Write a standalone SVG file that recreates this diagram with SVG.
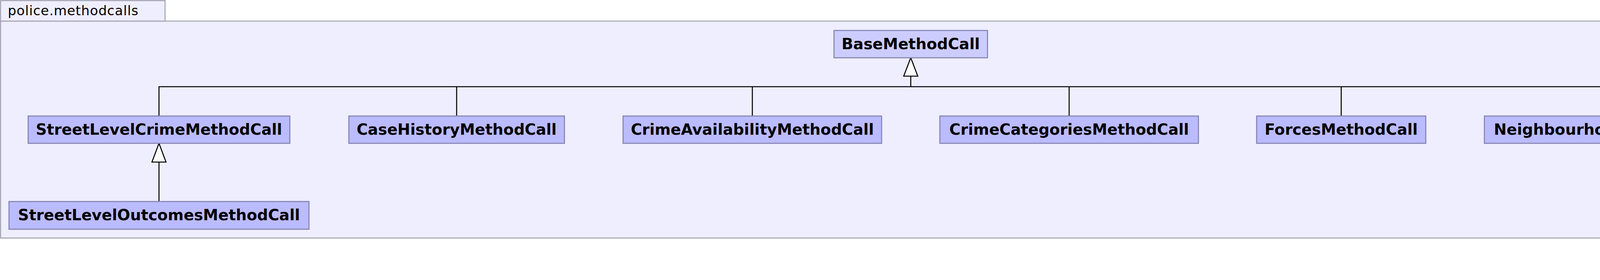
<svg xmlns="http://www.w3.org/2000/svg" width="4485" height="717" viewBox="0 0 4485 717">
<defs>
<style>
.pkg{fill:#EEEEFF;stroke:#A8A8B8;stroke-width:2.8}
.node rect{fill:#BBBBFF;stroke:#8080B0;stroke-width:2.6}
.node.base rect{fill:#CCCCFF}
.node text{font-family:"DejaVu Sans","Liberation Sans",sans-serif;font-weight:bold;font-size:39px;fill:#000;text-anchor:middle}
.pkgtitle{font-family:"DejaVu Sans","Liberation Sans",sans-serif;font-size:34px;fill:#000}
.edge{stroke:#000;stroke-width:2.6;fill:none}
.head{fill:#FFFFFF;stroke:#000;stroke-width:2.6;stroke-linejoin:miter}
</style>
</defs>
<rect width="4485" height="717" fill="#FFFFFF"/>
<g id="package">
<rect class="pkg" x="1.5" y="54" width="4481" height="555.5"/>
<rect class="pkg" x="1.5" y="1.5" width="421" height="52.5"/>
<text class="pkgtitle" x="20" y="39" textLength="334" lengthAdjust="spacing">police.methodcalls</text>
</g>
<g id="connectors">
<path class="edge" d="M407,297 V222 H4129.5 V297 M1169,222 V297 M1926,222 V297 M2737,222 V297 M3433.5,222 V297 M2331.5,222 V195"/>
<polygon class="head" points="2331.5,148 2313.5,195 2349.5,195"/>
<path class="edge" d="M407,516 V415"/>
<polygon class="head" points="407,367 389,415 425,415"/>
</g>
<g id="BaseMethodCall" class="node base">
<rect x="2135" y="78" width="393" height="70"/>
<text x="2331.5" y="126">BaseMethodCall</text>
</g>
<g id="StreetLevelCrimeMethodCall" class="node">
<rect x="72" y="297" width="670" height="70"/>
<text x="407" y="345">StreetLevelCrimeMethodCall</text>
</g>
<g id="CaseHistoryMethodCall" class="node">
<rect x="893" y="297" width="552" height="70"/>
<text x="1169" y="345">CaseHistoryMethodCall</text>
</g>
<g id="CrimeAvailabilityMethodCall" class="node">
<rect x="1595" y="297" width="662" height="70"/>
<text x="1926" y="345">CrimeAvailabilityMethodCall</text>
</g>
<g id="CrimeCategoriesMethodCall" class="node">
<rect x="2406" y="297" width="662" height="70"/>
<text x="2737" y="345">CrimeCategoriesMethodCall</text>
</g>
<g id="ForcesMethodCall" class="node">
<rect x="3217" y="297" width="433" height="70"/>
<text x="3433.5" y="345">ForcesMethodCall</text>
</g>
<g id="NeighbourhoodsMethodCall" class="node">
<rect x="3800" y="297" width="659" height="70"/>
<text x="4129.5" y="345">NeighbourhoodsMethodCall</text>
</g>
<g id="StreetLevelOutcomesMethodCall" class="node">
<rect x="23" y="516" width="768" height="71"/>
<text x="407" y="564">StreetLevelOutcomesMethodCall</text>
</g>
</svg>
